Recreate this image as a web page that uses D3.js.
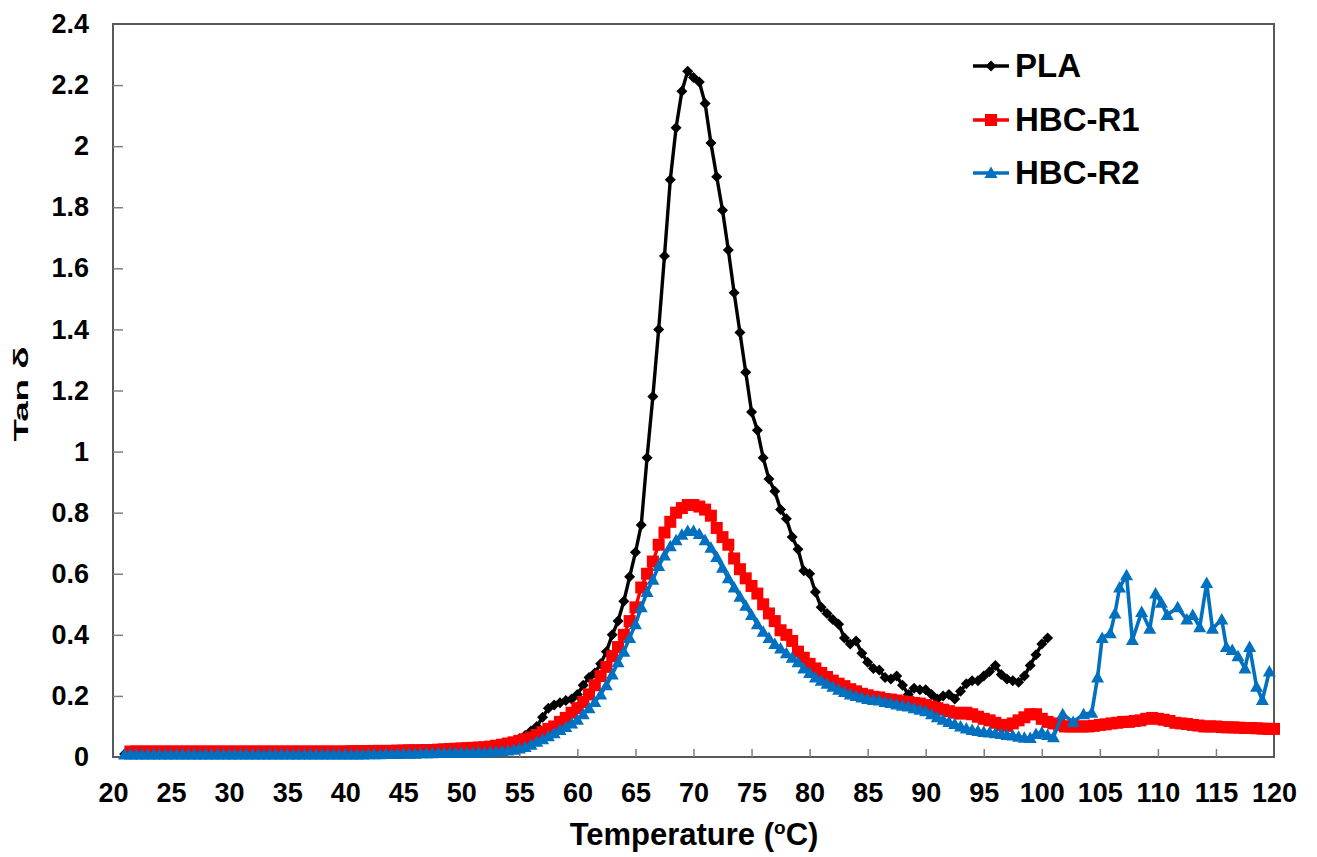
<!DOCTYPE html>
<html>
<head>
<meta charset="utf-8">
<script src="https://cdn.jsdelivr.net/npm/d3@7"></script>
<style>
  html, body { margin: 0; padding: 0; background: #fff; }
  svg { display: block; font-family: "Liberation Sans", Arial, sans-serif; font-weight: bold; }
</style>
</head>
<body>
<svg id="chart" width="1317" height="857"></svg>
<script>
// ---------------- DATA ----------------
const seriesNames = ["PLA", "HBC-R1", "HBC-R2"];
const seriesColors = ["#000000", "#ff0000", "#0070c0"];
const tempStep = 0.5;           // sampling step of the dense records (°C)

// PLA: Tan δ from 21 °C, every 0.5 °C
const plaStart = 21;
const plaTanD = [
  0.01,0.01,0.01,0.01,0.01,0.01,0.01,0.01,0.01,0.01,
  0.01,0.01,0.01,0.01,0.01,0.01,0.01,0.01,0.01,0.01,
  0.01,0.01,0.01,0.01,0.01,0.01,0.01,0.01,0.01,0.01,
  0.01,0.01,0.01,0.01,0.011,0.011,0.011,0.011,0.011,0.011,
  0.011,0.011,0.011,0.012,0.012,0.012,0.012,0.012,0.012,0.012,
  0.013,0.013,0.014,0.015,0.015,0.016,0.017,0.018,0.019,0.02,
  0.021,0.022,0.024,0.027,0.03,0.035,0.042,0.05,0.06,0.07,
  0.085,0.1,0.13,0.16,0.17,0.178,0.185,0.19,0.205,0.235,
  0.26,0.275,0.305,0.345,0.40,0.445,0.51,0.59,0.67,0.76,
  0.98,1.18,1.40,1.64,1.89,2.06,2.18,2.245,2.225,2.21,
  2.14,2.01,1.90,1.79,1.66,1.52,1.39,1.26,1.13,1.07,
  0.98,0.91,0.87,0.81,0.78,0.72,0.68,0.61,0.60,0.54,
  0.49,0.47,0.45,0.435,0.39,0.37,0.38,0.34,0.31,0.29,
  0.285,0.26,0.255,0.265,0.235,0.205,0.225,0.22,0.22,0.205,
  0.19,0.20,0.205,0.19,0.215,0.24,0.25,0.25,0.265,0.28,
  0.30,0.27,0.255,0.25,0.245,0.265,0.30,0.335,0.37,0.39
];

// HBC-R1: Tan δ from 21.5 °C, every 0.5 °C
const r1Start = 21.5;
const r1TanD = [
  0.018,0.018,0.018,0.018,0.018,0.018,0.018,0.018,0.018,0.018,
  0.018,0.018,0.018,0.018,0.018,0.018,0.018,0.018,0.018,0.018,
  0.018,0.018,0.018,0.018,0.018,0.018,0.018,0.018,0.018,0.018,
  0.018,0.018,0.018,0.018,0.018,0.018,0.018,0.018,0.019,0.019,
  0.019,0.019,0.02,0.02,0.02,0.02,0.021,0.021,0.022,0.022,
  0.022,0.023,0.023,0.024,0.025,0.026,0.027,0.028,0.029,0.03,
  0.031,0.032,0.034,0.037,0.04,0.044,0.048,0.053,0.058,0.064,
  0.072,0.082,0.092,0.10,0.115,0.128,0.145,0.16,0.18,0.205,
  0.235,0.265,0.295,0.33,0.36,0.40,0.445,0.49,0.555,0.60,
  0.64,0.695,0.735,0.77,0.80,0.815,0.825,0.825,0.82,0.81,
  0.79,0.75,0.72,0.695,0.65,0.615,0.585,0.56,0.535,0.50,
  0.47,0.445,0.415,0.40,0.38,0.345,0.325,0.305,0.29,0.275,
  0.262,0.25,0.24,0.232,0.222,0.215,0.207,0.202,0.197,0.195,
  0.19,0.188,0.185,0.182,0.18,0.177,0.175,0.17,0.165,0.16,
  0.155,0.15,0.145,0.142,0.145,0.14,0.132,0.125,0.12,0.112,
  0.105,0.102,0.11,0.12,0.13,0.14,0.14,0.125,0.115,0.11,
  0.105,0.10,0.10,0.10,0.10,0.10,0.102,0.105,0.107,0.11,
  0.112,0.115,0.115,0.118,0.12,0.125,0.128,0.125,0.122,0.118,
  0.112,0.11,0.108,0.105,0.103,0.10,0.10,0.10,0.098,0.097,
  0.097,0.096,0.095,0.095,0.094,0.093,0.092,0.092
];

// HBC-R2: dense part from 21 °C every 0.5 °C, then sparser tail
const r2Start = 21;
const r2TanD = [
  0.008,0.008,0.008,0.008,0.008,0.008,0.008,0.008,0.008,0.008,
  0.008,0.008,0.008,0.008,0.008,0.008,0.008,0.008,0.008,0.008,
  0.008,0.008,0.008,0.008,0.008,0.008,0.008,0.008,0.008,0.008,
  0.008,0.008,0.008,0.008,0.008,0.008,0.008,0.008,0.008,0.008,
  0.008,0.008,0.009,0.009,0.009,0.01,0.01,0.01,0.011,0.011,
  0.011,0.012,0.012,0.012,0.013,0.013,0.013,0.014,0.014,0.014,
  0.014,0.015,0.015,0.016,0.017,0.019,0.021,0.024,0.028,0.033,
  0.04,0.05,0.058,0.068,0.078,0.088,0.098,0.11,0.122,0.14,
  0.16,0.18,0.205,0.235,0.27,0.31,0.345,0.39,0.435,0.49,
  0.54,0.58,0.625,0.66,0.69,0.71,0.728,0.74,0.74,0.73,
  0.71,0.685,0.655,0.62,0.585,0.555,0.525,0.495,0.465,0.435,
  0.41,0.39,0.37,0.355,0.34,0.325,0.31,0.29,0.275,0.26,
  0.25,0.24,0.23,0.22,0.213,0.205,0.20,0.195,0.19,0.187,
  0.185,0.18,0.177,0.172,0.168,0.165,0.16,0.155,0.15,0.14,
  0.13,0.122,0.115,0.108,0.10,0.093,0.088,0.085,0.082,0.08,
  0.078,0.075,0.072,0.07,0.066,0.063,0.062,0.075,0.08,0.072,
  0.065
];
const r2TailTemp = [101.8,102.7,103.6,104.3,104.8,105.2,105.9,106.3,106.7,107.3,
  107.8,108.6,109.3,109.8,110.3,110.8,111.7,112.5,113.0,113.6,
  114.2,114.7,115.5,115.9,116.4,116.9,117.5,117.9,118.5,119.0,119.6];
const r2TailTanD = [0.14,0.115,0.14,0.145,0.26,0.39,0.405,0.47,0.555,0.595,
  0.383,0.475,0.42,0.535,0.505,0.465,0.49,0.45,0.465,0.425,
  0.57,0.42,0.45,0.36,0.35,0.33,0.29,0.36,0.23,0.187,0.28];

// axis ticks
const xTicks = [20,25,30,35,40,45,50,55,60,65,70,75,80,85,90,95,100,105,110,115,120];
const yTicks = [0,0.2,0.4,0.6,0.8,1,1.2,1.4,1.6,1.8,2,2.2,2.4];
const yTickLabels = ["0","0.2","0.4","0.6","0.8","1","1.2","1.4","1.6","1.8","2","2.2","2.4"];

// ---------------- BUILD ----------------
const toPts = (start, arr) => arr.map((v, i) => ({ t: start + i * tempStep, v }));
const plaPts = toPts(plaStart, plaTanD);
const r1Pts = toPts(r1Start, r1TanD);
const r2Pts = toPts(r2Start, r2TanD).concat(r2TailTemp.map((t, i) => ({ t, v: r2TailTanD[i] })));
const series = [plaPts, r1Pts, r2Pts];

const svg = d3.select("#chart");
const x = d3.scaleLinear().domain([20, 120]).range([113, 1274]);
const y = d3.scaleLinear().domain([0, 2.4]).range([757, 24]);

const markerPaths = [
  "M0,-5.5L5.5,0L0,5.5L-5.5,0Z",  // diamond
  "M-6,-6H6V6H-6Z",               // square
  "M0,-6.5L6.5,5L-6.5,5Z"         // triangle
];
const lineWidths = [3.4, 3.4, 3.6];

// frame
svg.append("rect")
  .attr("x", x(20)).attr("y", y(2.4))
  .attr("width", x(120) - x(20)).attr("height", y(0) - y(2.4))
  .attr("fill", "none").attr("stroke", "#595959").attr("stroke-width", 2);

// axes
const xAxis = svg.append("g").attr("transform", `translate(0,${y(0)})`)
  .call(d3.axisBottom(x).tickValues(xTicks).tickSizeInner(-8).tickSizeOuter(0).tickPadding(26).tickFormat(d3.format("d")));
const yAxis = svg.append("g").attr("transform", `translate(${x(20)},0)`)
  .call(d3.axisLeft(y).tickValues(yTicks).tickSizeInner(-10).tickSizeOuter(0).tickPadding(24)
    .tickFormat((d, i) => yTickLabels[i]));
[xAxis, yAxis].forEach(g => {
  g.select(".domain").remove();
  g.selectAll(".tick line").attr("stroke", "#7f7f7f").attr("stroke-width", 1.5);
  g.selectAll(".tick text").attr("fill", "#000").style("font-size", "27px")
    .style("font-family", '"Liberation Sans", Arial, sans-serif').style("font-weight", "bold");
});
yAxis.selectAll(".tick").filter(d => d === 0 || d === 2.4).select("line").remove();
xAxis.selectAll(".tick").filter(d => d === 20 || d === 120).select("line").remove();

// series
const line = d3.line().x(d => x(d.t)).y(d => y(d.v));
series.forEach((pts, si) => {
  const g = svg.append("g");
  g.append("path").datum(pts).attr("d", line)
    .attr("fill", "none").attr("stroke", seriesColors[si])
    .attr("stroke-width", lineWidths[si]).attr("stroke-linejoin", "round");
  g.selectAll("path.m").data(pts).enter().append("path").attr("class", "m")
    .attr("d", markerPaths[si])
    .attr("transform", d => `translate(${x(d.t)},${y(d.v)})`)
    .attr("fill", seriesColors[si]);
});

// legend
const legBaselines = [77, 131, 184];
seriesNames.forEach((name, i) => {
  const ly = legBaselines[i] - 11;
  svg.append("line").attr("x1", 973).attr("x2", 1009).attr("y1", ly).attr("y2", ly)
    .attr("stroke", seriesColors[i]).attr("stroke-width", lineWidths[i]);
  svg.append("path").attr("d", markerPaths[i]).attr("transform", `translate(991,${ly})`)
    .attr("fill", seriesColors[i]);
  svg.append("text").attr("x", 1015).attr("y", legBaselines[i])
    .style("font-size", "33px").attr("fill", "#000").text(name);
});

// axis titles
const xt = svg.append("text").attr("x", 694).attr("y", 845).attr("text-anchor", "middle")
  .style("font-size", "31px").attr("fill", "#000");
xt.append("tspan").text("Temperature (");
xt.append("tspan").attr("dy", -11).style("font-size", "19px").text("o");
xt.append("tspan").attr("dy", 11).text("C)");

svg.append("text")
  .attr("transform", "translate(28,394) rotate(-90)")
  .attr("text-anchor", "middle")
  .attr("textLength", 95).attr("lengthAdjust", "spacingAndGlyphs")
  .style("font-size", "21px").attr("fill", "#000")
  .text("Tan δ");
</script>
</body>
</html>
